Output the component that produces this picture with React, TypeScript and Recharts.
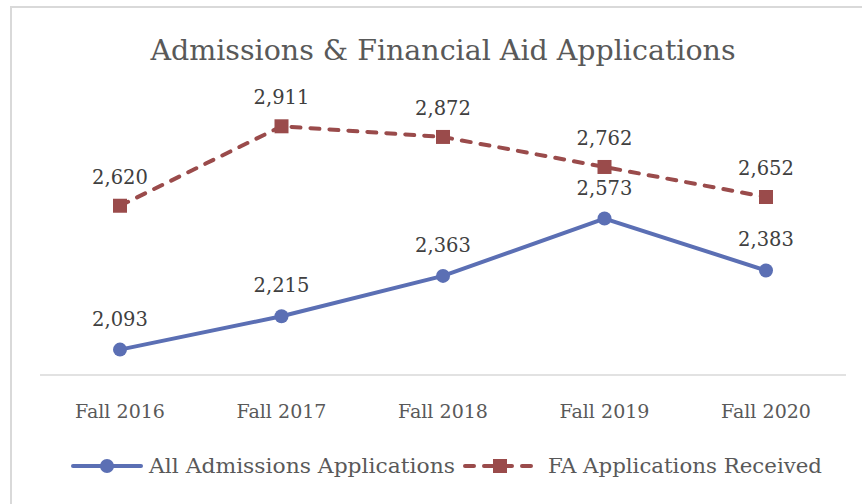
import { LineChart, Line, XAxis, YAxis, LabelList } from "recharts";

const terms = ["Fall 2016", "Fall 2017", "Fall 2018", "Fall 2019", "Fall 2020"];
const admissions = [2093, 2215, 2363, 2573, 2383];
const faReceived = [2620, 2911, 2872, 2762, 2652];

const BLUE = "#5b6fb4";
const RED = "#9a4b4b";
const FONT = "'DejaVu Serif', serif";

const data = terms.map((term, i) => ({
  term,
  admissions: admissions[i],
  fa: faReceived[i],
}));

const fmt = (v: any) => Number(v).toLocaleString("en-US");

function Tick(props: any) {
  const { x, y, payload } = props;
  return (
    <text x={x} y={y + 35} textAnchor="middle" fill="#595959" fontSize={19} fontFamily={FONT} textLength={90} lengthAdjust="spacingAndGlyphs">
      {payload.value}
    </text>
  );
}

export default function App() {
  return (
    <div style={{ position: "fixed", left: 0, top: 0, width: 862, height: 504, overflow: "hidden", background: "#fff" }}>
      <div
        style={{
          position: "absolute",
          left: 10,
          top: 6,
          width: 880,
          height: 520,
          border: "2px solid #d9d9d9",
        }}
      />
      <svg style={{ position: "absolute", left: 0, top: 0 }} width={862} height={90}>
        <text x={443} y={60} textAnchor="middle" fill="#595959" fontSize={28} fontFamily={FONT} textLength={585} lengthAdjust="spacingAndGlyphs">
          Admissions &amp; Financial Aid Applications
        </text>
      </svg>
      <div style={{ position: "absolute", left: 0, top: 0 }}>
        <LineChart width={862} height={504} data={data} margin={{ top: 102, right: 16, bottom: 89, left: 40 }}>
          <XAxis
            dataKey="term"
            height={40}
            padding={{ left: 80, right: 80 }}
            axisLine={{ stroke: "#d9d9d9", strokeWidth: 1.5 }}
            tickLine={false}
            tick={<Tick />}
          />
          <YAxis hide domain={[2000, 3000]} />
          <Line
            dataKey="admissions"
            stroke={BLUE}
            strokeWidth={4}
            dot={{ r: 7, fill: BLUE, stroke: BLUE, strokeWidth: 0 }}
            isAnimationActive={false}
          >
            <LabelList dataKey="admissions" position="top" offset={24} formatter={fmt} fill="#404040" fontSize={19.5} fontFamily={FONT} />
          </Line>
          <Line
            dataKey="fa"
            stroke={RED}
            strokeWidth={4}
            strokeDasharray="9 10"
            strokeLinecap="round"
            dot={(p: any) => <rect key={p.index} x={p.cx - 7} y={p.cy - 7} width={14} height={14} fill={RED} />}
            isAnimationActive={false}
          >
            <LabelList dataKey="fa" position="top" offset={22} formatter={fmt} fill="#404040" fontSize={19.5} fontFamily={FONT} />
          </Line>
        </LineChart>
      </div>
      <svg style={{ position: "absolute", left: 0, top: 440 }} width={862} height={50}>
        <line x1={73} y1={26} x2={141} y2={26} stroke={BLUE} strokeWidth={4} strokeLinecap="round" />
        <circle cx={107} cy={26} r={7} fill={BLUE} />
        <text x={149} y={33} fill="#595959" fontSize={20} fontFamily={FONT} textLength={306} lengthAdjust="spacingAndGlyphs">All Admissions Applications</text>
        <line x1={465} y1={26} x2={535} y2={26} stroke={RED} strokeWidth={4} strokeDasharray="9 10" strokeLinecap="round" />
        <rect x={493} y={19} width={14} height={14} fill={RED} />
        <text x={548} y={33} fill="#595959" fontSize={20} fontFamily={FONT} textLength={274} lengthAdjust="spacingAndGlyphs">FA Applications Received</text>
      </svg>
    </div>
  );
}
